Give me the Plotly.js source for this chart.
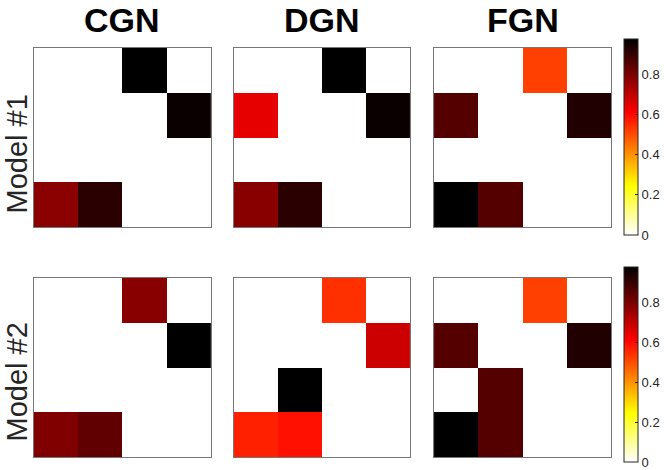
<!DOCTYPE html>
<html><head><meta charset="utf-8">
<script src="https://cdn.plot.ly/plotly-3.0.1.min.js"></script>
<style>html,body{margin:0;padding:0;background:#fff}#chart{width:664px;height:470px}</style>
</head><body><div id="chart"></div>
<script>
const methods = ['CGN', 'DGN', 'FGN'];
const models = ['Model #1', 'Model #2'];
const cellX = [1, 2, 3, 4];
const cellY = [1, 2, 3, 4];

const cgnModel1 = [[0,0,0.975,0],[0,0,0,0.96],[0,0,0,0],[0.776,0.915,0,0]];
const dgnModel1 = [[0,0,0.975,0],[0.645,0,0,0.961],[0,0,0,0],[0.78,0.915,0,0]];
const fgnModel1 = [[0,0,0.518,0],[0.853,0,0,0.929],[0,0,0,0],[0.975,0.853,0,0]];
const cgnModel2 = [[0,0,0.78,0],[0,0,0,0.975],[0,0,0,0],[0.792,0.837,0,0]];
const dgnModel2 = [[0,0,0.541,0],[0,0,0,0.6825],[0,0.975,0,0],[0.563,0.586,0,0]];
const fgnModel2 = [[0,0,0.518,0],[0.853,0,0,0.929],[0,0.853,0,0],[0.975,0.853,0,0]];

const colorbarTicks = [0, 0.2, 0.4, 0.6, 0.8];
const colorbarTickText = ['0', '0.2', '0.4', '0.6', '0.8'];
const zMin = 0, zMax = 0.975;

const W = 664, H = 470;
const fx = p => p / W;
const fy = p => 1 - p / H;

const hotReversed = [[0,'rgb(255,255,255)'],[0.25,'rgb(255,255,0)'],[0.625,'rgb(255,0,0)'],[1,'rgb(0,0,0)']];

const panelX = [[34,212],[235,412],[436,614]];
const panelY = [[48,227],[278,457]];
const cbY = [[39,235],[267,462]];

const matrices = [[cgnModel1, dgnModel1, fgnModel1],[cgnModel2, dgnModel2, fgnModel2]];
const font = 'Liberation Sans, Arial, Helvetica, sans-serif';

const traces = [];
const layout = {
  width: W, height: H,
  margin: {l:0, r:0, t:0, b:0},
  paper_bgcolor: '#fff', plot_bgcolor: '#fff',
  showlegend: false,
  annotations: []
};

let k = 0;
for (let r = 0; r < 2; r++) {
  for (let c = 0; c < 3; c++) {
    k++;
    const xa = k === 1 ? 'x' : 'x' + k;
    const ya = k === 1 ? 'y' : 'y' + k;
    const tr = {
      type: 'heatmap', z: matrices[r][c], x: cellX, y: cellY,
      xaxis: xa, yaxis: ya,
      colorscale: hotReversed, zmin: zMin, zmax: zMax,
      showscale: c === 2, hoverinfo: 'skip'
    };
    if (c === 2) {
      tr.colorbar = {
        x: fx(627), xanchor: 'left', y: fy(cbY[r][0]), yanchor: 'top',
        lenmode: 'pixels', len: cbY[r][1] - cbY[r][0],
        thicknessmode: 'pixels', thickness: 14,
        xpad: 0, ypad: 0,
        outlinewidth: 1, outlinecolor: '#262626',
        ticks: 'inside', ticklen: 3, tickcolor: '#262626',
        tickvals: colorbarTicks, ticktext: colorbarTickText,
        ticklabeloverflow: 'allow',
        tickfont: {family: font, size: 13, color: '#262626'}
      };
    }
    traces.push(tr);
    const axCommon = {showgrid:false, zeroline:false, showticklabels:false, ticks:'', showline:true, mirror:true, linecolor:'#777', linewidth:1, fixedrange:true};
    layout['xaxis' + (k === 1 ? '' : k)] = Object.assign({}, axCommon, {
      domain: [fx(panelX[c][0]), fx(panelX[c][1])], range: [0.5, 4.5], anchor: ya
    });
    layout['yaxis' + (k === 1 ? '' : k)] = Object.assign({}, axCommon, {
      domain: [fy(panelY[r][1]), fy(panelY[r][0])], range: [4.5, 0.5], anchor: xa
    });
  }
}

methods.forEach((m, c) => {
  layout.annotations.push({
    text: '<b>' + m + '</b>', xref: 'paper', yref: 'paper',
    x: fx((panelX[c][0] + panelX[c][1]) / 2), y: 1,
    xanchor: 'center', yanchor: 'top', showarrow: false, borderpad: 0,
    font: {family: font, size: 34, color: '#000'}
  });
});
const rowLabelY = [154, 382];
models.forEach((m, r) => {
  layout.annotations.push({
    text: m, xref: 'paper', yref: 'paper',
    x: fx(17.5), y: fy(rowLabelY[r]), textangle: -90,
    xanchor: 'center', yanchor: 'middle', showarrow: false, borderpad: 0,
    font: {family: font, size: 29, color: '#262626'}
  });
});

Plotly.newPlot('chart', traces, layout, {displayModeBar: false, staticPlot: true});
</script>
</body></html>
